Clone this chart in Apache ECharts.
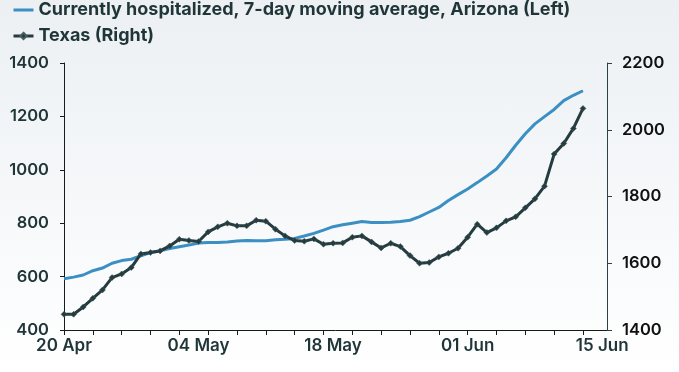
<!DOCTYPE html>
<html>
<head>
<meta charset="utf-8">
<script src="https://cdn.jsdelivr.net/npm/echarts@6/dist/echarts.min.js"></script>
<style>
html,body{margin:0;padding:0;}
body{width:679px;height:372px;background:linear-gradient(to bottom,#ecf0f3 0%,#f6f8fa 55%,#ffffff 100%);}
#chart{width:679px;height:372px;}
</style>
</head>
<body>
<div id="chart"></div>
<script>
// Day index 0 = 20 Apr
const dateLabels = ['20 Apr', '04 May', '18 May', '01 Jun', '15 Jun'];
const labelDays = [0, 14, 28, 42, 56];
const leftTicks = [400, 600, 800, 1000, 1200, 1400];
const rightTicks = [1400, 1600, 1800, 2000, 2200];

const arizona = [592, 598, 606, 622, 632, 650, 660, 665, 678, 690,
  697, 705, 712, 718, 726, 728, 728, 730, 733, 735,
  734, 734, 738, 740, 743, 752, 762, 774, 787, 794,
  800, 806, 803, 803, 804, 806, 811, 825, 842, 859,
  885, 907, 928, 952, 977, 1003, 1045, 1092, 1135, 1172,
  1199, 1226, 1259, 1279, 1296];

const texas = [1447, 1447, 1469, 1495, 1520, 1557, 1568, 1587, 1628, 1632,
  1637, 1652, 1672, 1668, 1665, 1694, 1709, 1720, 1712, 1712,
  1729, 1726, 1702, 1682, 1668, 1666, 1673, 1657, 1660, 1661,
  1678, 1682, 1664, 1646, 1660, 1650, 1623, 1600, 1602, 1619,
  1630, 1645, 1678, 1717, 1692, 1706, 1727, 1739, 1766, 1793,
  1831, 1927, 1959, 2004, 2064];

const tickDays = [];
for (let d = 0; d <= 54; d += 3) tickDays.push(d);

const textColor = '#1f3538';
const font = 'Inter, "DejaVu Sans", sans-serif';
const azName = 'Currently hospitalized, 7-day moving average, Arizona (Left)';
const txName = 'Texas (Right)';

const chart = echarts.init(document.getElementById('chart'), null, {renderer: 'canvas'});
chart.setOption({
  backgroundColor: 'transparent',
  animation: false,
  grid: {left: 64, right: 72, top: 63, bottom: 42, containLabel: false},
  legend: {
    orient: 'vertical', left: 12, top: 1, itemGap: 8, padding: 0,
    itemWidth: 20, itemHeight: 8,
    lineStyle: {width: 3},
    textStyle: {color: textColor, fontSize: 18, fontWeight: 700, fontFamily: font},
    data: [
      {name: azName, itemStyle: {color: 'rgba(0,0,0,0)', borderWidth: 0}},
      {name: txName}
    ]
  },
  xAxis: {
    type: 'value', min: 0, max: 56.5,
    axisLine: {show: true, lineStyle: {color: '#1a1a1a', width: 1}},
    axisTick: {show: true, length: 5, customValues: tickDays, lineStyle: {color: '#1a1a1a'}},
    axisLabel: {
      customValues: labelDays, margin: 7,
      color: textColor, fontSize: 17, fontWeight: 600, fontFamily: font,
      formatter: v => dateLabels[labelDays.indexOf(v)] || ''
    },
    splitLine: {show: false}
  },
  yAxis: [
    {
      type: 'value', min: leftTicks[0], max: leftTicks[leftTicks.length - 1], interval: 200,
      position: 'left',
      axisLine: {show: true, lineStyle: {color: '#1a1a1a'}},
      axisTick: {show: true, length: 4, lineStyle: {color: '#1a1a1a'}},
      axisLabel: {margin: 15, color: textColor, fontSize: 16.5, fontWeight: 600, fontFamily: font,
        formatter: v => String(v)},
      splitLine: {show: false}
    },
    {
      type: 'value', min: rightTicks[0], max: rightTicks[rightTicks.length - 1], interval: 200,
      position: 'right',
      axisLine: {show: true, lineStyle: {color: '#2a4246'}},
      axisTick: {show: true, length: 5, lineStyle: {color: '#2a4246'}},
      axisLabel: {margin: 15, color: '#111111', fontSize: 16.5, fontWeight: 600, fontFamily: font,
        formatter: v => String(v)},
      splitLine: {show: false}
    }
  ],
  series: [
    {
      name: azName,
      type: 'line', yAxisIndex: 0, symbol: 'none',
      lineStyle: {color: '#3b8fc2', width: 3},
      itemStyle: {color: '#3b8fc2'},
      data: arizona.map((v, i) => [i, v]),
      z: 2
    },
    {
      name: txName,
      type: 'line', yAxisIndex: 1, symbol: 'diamond', symbolSize: 6, showSymbol: true,
      lineStyle: {color: '#243b3f', width: 3},
      itemStyle: {color: '#243b3f', borderColor: '#4a5e61', borderWidth: 0.5},
      data: texas.map((v, i) => [i, v]),
      z: 3
    }
  ]
});
</script>
</body>
</html>
